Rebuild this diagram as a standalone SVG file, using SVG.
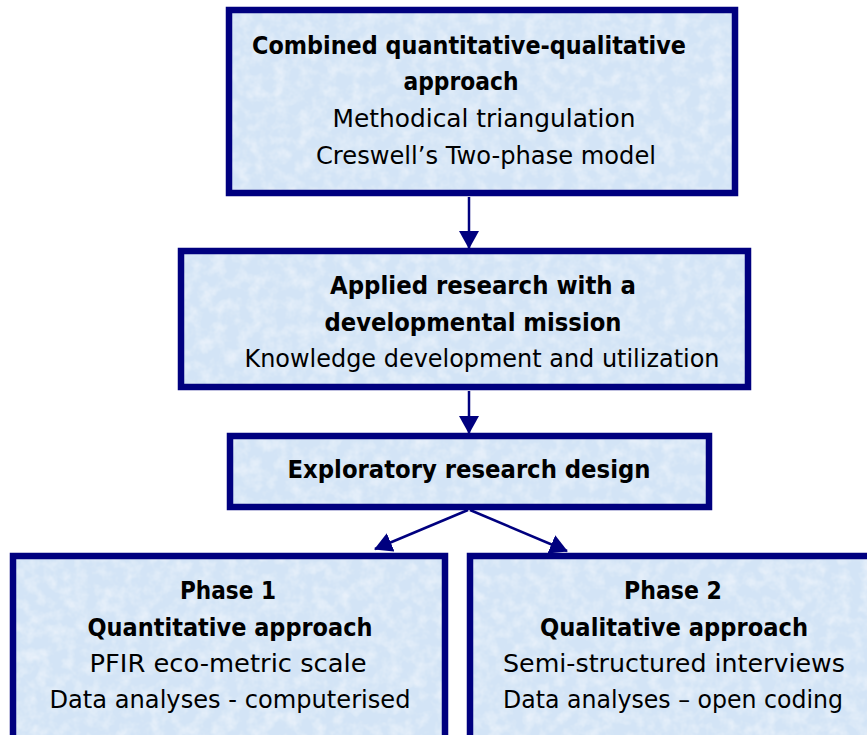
<svg xmlns="http://www.w3.org/2000/svg" width="867" height="735" viewBox="0 0 867 735">
<defs>
<filter id="tex" x="0" y="0" width="100%" height="100%">
<feTurbulence type="fractalNoise" baseFrequency="0.08" numOctaves="3" seed="4" result="n"/>
<feColorMatrix in="n" type="matrix" values="0 0 0 0 1  0 0 0 0 1  0 0 0 0 1  0 0 0 0.9 -0.35" result="w"/>
<feComposite in="w" in2="SourceGraphic" operator="in" result="wc"/>
<feMerge><feMergeNode in="SourceGraphic"/><feMergeNode in="wc"/></feMerge>
</filter>
<marker id="ah" viewBox="0 0 18 20" refX="17" refY="10" markerWidth="18" markerHeight="20" markerUnits="userSpaceOnUse" orient="auto">
<path d="M0,0 L18,10 L0,20 z" fill="#00007f"/>
</marker>
</defs>
<style>
.box{fill:#d3e4f6;stroke:none}
.bd{fill:none;stroke:#00007f;stroke-width:6.5}
.t{font-family:"DejaVu Sans","Liberation Sans",sans-serif;font-size:25px;fill:#000;text-anchor:middle}
.b{font-weight:bold}
.c{stroke:#00007f;stroke-width:2.5;fill:none}
</style>
<g id="node-combined">
<rect class="box" x="229" y="10" width="506" height="183" filter="url(#tex)"/>
<rect class="bd" x="229" y="10" width="506" height="183"/>
<text class="t b" x="469" y="54" textLength="434" lengthAdjust="spacingAndGlyphs">Combined quantitative-qualitative</text>
<text class="t b" x="461" y="90" textLength="115" lengthAdjust="spacingAndGlyphs">approach</text>
<text class="t" x="484" y="127" textLength="303" lengthAdjust="spacingAndGlyphs">Methodical triangulation</text>
<text class="t" x="486" y="164" textLength="340" lengthAdjust="spacingAndGlyphs">Creswell’s Two-phase model</text>
</g>
<g id="node-applied">
<rect class="box" x="181" y="251" width="567" height="136" filter="url(#tex)"/>
<rect class="bd" x="181" y="251" width="567" height="136"/>
<text class="t b" x="483" y="294" textLength="306" lengthAdjust="spacingAndGlyphs">Applied research with a</text>
<text class="t b" x="473" y="331" textLength="297" lengthAdjust="spacingAndGlyphs">developmental mission</text>
<text class="t" x="482" y="367" textLength="475" lengthAdjust="spacingAndGlyphs">Knowledge development and utilization</text>
</g>
<g id="node-exploratory">
<rect class="box" x="230" y="436" width="479" height="71" filter="url(#tex)"/>
<rect class="bd" x="230" y="436" width="479" height="71"/>
<text class="t b" x="469" y="478" textLength="363" lengthAdjust="spacingAndGlyphs">Exploratory research design</text>
</g>
<g id="node-phase1">
<rect class="box" x="13" y="556" width="432" height="190" filter="url(#tex)"/>
<rect class="bd" x="13" y="556" width="432" height="190"/>
<text class="t b" x="228" y="599" textLength="96" lengthAdjust="spacingAndGlyphs">Phase 1</text>
<text class="t b" x="230" y="636" textLength="285" lengthAdjust="spacingAndGlyphs">Quantitative approach</text>
<text class="t" x="228" y="672" textLength="277" lengthAdjust="spacingAndGlyphs">PFIR eco-metric scale</text>
<text class="t" x="230" y="708" textLength="361" lengthAdjust="spacingAndGlyphs">Data analyses - computerised</text>
</g>
<g id="node-phase2">
<rect class="box" x="470" y="556" width="410" height="190" filter="url(#tex)"/>
<rect class="bd" x="470" y="556" width="410" height="190"/>
<text class="t b" x="673" y="599" textLength="98" lengthAdjust="spacingAndGlyphs">Phase 2</text>
<text class="t b" x="674" y="636" textLength="268" lengthAdjust="spacingAndGlyphs">Qualitative approach</text>
<text class="t" x="674" y="672" textLength="342" lengthAdjust="spacingAndGlyphs">Semi-structured interviews</text>
<text class="t" x="673" y="708" textLength="340" lengthAdjust="spacingAndGlyphs">Data analyses – open coding</text>
</g>
<g id="connectors">
<line class="c" x1="469" y1="197" x2="469" y2="248" marker-end="url(#ah)"/>
<line class="c" x1="469" y1="391" x2="469" y2="433" marker-end="url(#ah)"/>
<line class="c" x1="468" y1="510" x2="375" y2="549" marker-end="url(#ah)"/>
<line class="c" x1="470" y1="510" x2="567" y2="551" marker-end="url(#ah)"/>
</g>
</svg>
